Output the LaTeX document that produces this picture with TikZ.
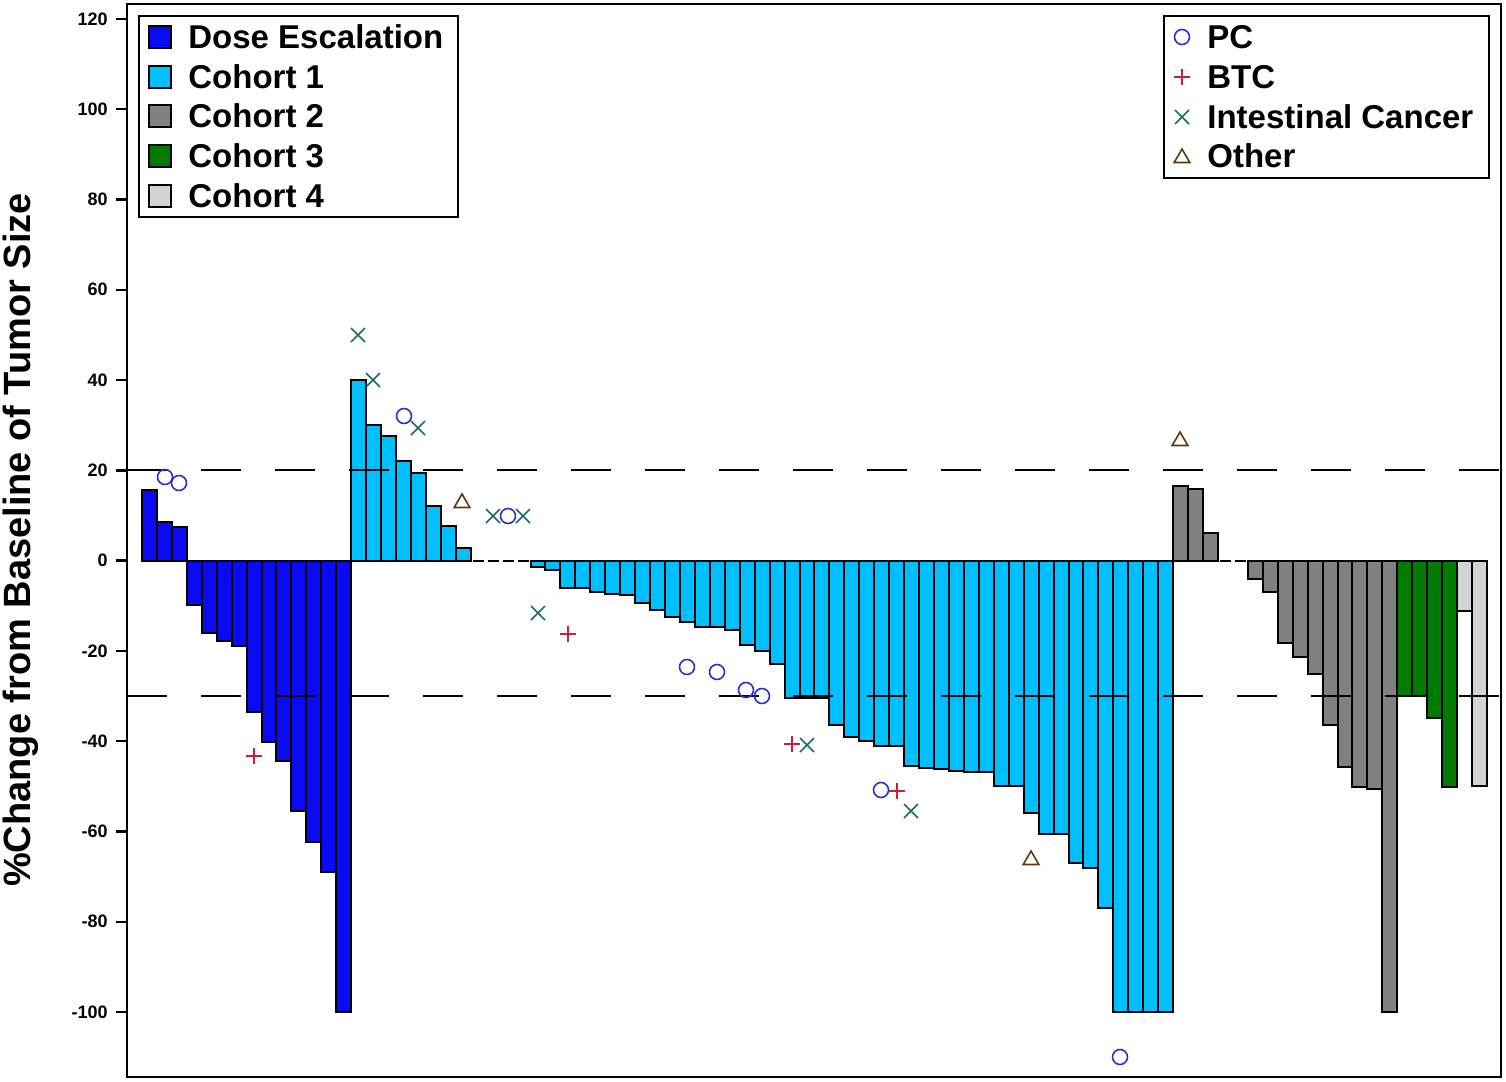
\documentclass[tikz,border=0pt]{standalone}
\usepackage{fontspec}
\setmainfont{Liberation Sans}
\usetikzlibrary{shapes.geometric}
\definecolor{cdose}{HTML}{0A0AF5}
\definecolor{ccoh1}{HTML}{00BFFF}
\definecolor{ccoh2}{HTML}{808080}
\definecolor{ccoh3}{HTML}{007A00}
\definecolor{ccoh4}{HTML}{D3D3D3}
\definecolor{mpc}{HTML}{3030D0}
\definecolor{mbtc}{HTML}{C8203C}
\definecolor{mint}{HTML}{1A6E5C}
\definecolor{moth}{HTML}{5C3A10}
\tikzset{
  barbox/.style={draw=black,line width=1pt},
  pcmark/.style={circle,draw=mpc,line width=0.8pt,minimum size=7.5pt,inner sep=0pt},
  othmark/.style={regular polygon,regular polygon sides=3,draw=moth,line width=0.8pt,minimum size=9pt,inner sep=0pt},
  ticklab/.style={anchor=east,font=\fontsize{9}{10}\selectfont\bfseries,inner sep=0pt},
  legtext/.style={anchor=west,font=\fontsize{16.5}{18}\selectfont\bfseries,inner sep=0pt},
}
\newcommand{\plusmark}[2]{\draw[mbtc,line width=0.8pt] (#1-8,#2)--(#1+8,#2) (#1,#2-8)--(#1,#2+8);}
\newcommand{\xmark}[2]{\draw[mint,line width=0.8pt] (#1-7,#2-7)--(#1+7,#2+7) (#1-7,#2+7)--(#1+7,#2-7);}
\begin{document}
\begin{tikzpicture}[x=0.5pt,y=-0.5pt]
\useasboundingbox (0,0) rectangle (1506,1082);
\fill[white] (0,0) rectangle (1506,1082);
% bars
\begin{scope}[shift={(0,560.6)},yscale=-4.514]
\def\w{14.944}
\foreach \v [count=\i from 0] in {15.6,8.5,7.4,-9.9,-16,-17.8,-19,-33.6,-40.2,-44.4,-55.5,-62.3,-69,-100}
  {\filldraw[barbox,fill=cdose] (142+\i*\w,0) rectangle (142+\i*\w+\w,\v);}
\foreach \v [count=\i from 14] in {40,30,27.7,22,19.3,12,7.7,2.8,0,0,0,0,-1.5,-2,-6,-6,-7,-7.5,-7.7,-9.5,-11,-12.5,-13.6,-14.7,-14.7,-15.4,-18.7,-20,-23,-30.5,-30.5,-30.5,-36.5,-39,-40,-41,-41,-45.5,-46,-46.2,-46.5,-46.8,-46.8,-50,-50,-56,-60.5,-60.5,-67,-68,-77,-100,-100,-100,-100}
  {\ifdim \v pt=0pt \draw[line width=1pt] (142+\i*\w+2,0)--(142+\i*\w+\w-2,0);
   \else \filldraw[barbox,fill=ccoh1] (142+\i*\w,0) rectangle (142+\i*\w+\w,\v); \fi}
\foreach \v [count=\i from 69] in {16.5,15.8,6.1,0,0,-4,-7,-18.3,-21.4,-25.1,-36.4,-45.7,-50.2,-50.7,-100}
  {\ifdim \v pt=0pt \draw[line width=1pt] (142+\i*\w+2,0)--(142+\i*\w+\w-2,0);
   \else \filldraw[barbox,fill=ccoh2] (142+\i*\w,0) rectangle (142+\i*\w+\w,\v); \fi}
\foreach \v [count=\i from 84] in {-30,-30,-34.9,-50.2}
  {\filldraw[barbox,fill=ccoh3] (142+\i*\w,0) rectangle (142+\i*\w+\w,\v);}
\foreach \v [count=\i from 88] in {-11.1,-50}
  {\filldraw[barbox,fill=ccoh4] (142+\i*\w,0) rectangle (142+\i*\w+\w,\v);}
\end{scope}
% reference lines
\draw[line width=1pt,dash pattern=on 20 off 17] (127,470.3)--(1501,470.3);
\draw[line width=1pt,dash pattern=on 20 off 17] (127,696.0)--(1501,696.0);
% frame
\draw[line width=1.2pt] (127,4) rectangle (1501,1077);
% ticks
\foreach \v in {120,100,80,60,40,20,0,-20,-40,-60,-80,-100}{
  \draw[line width=1.2pt] (116,560.6-4.514*\v)--(127,560.6-4.514*\v);
  \node[ticklab] (t\v) at (108,560.6-4.514*\v) {\v};
}
\node[rotate=90,font=\fontsize{19}{20}\selectfont\bfseries,inner sep=0pt] (ytitle) at (21,540) {\%Change from Baseline of Tumor Size};
% markers
\foreach \x/\y [count=\k] in {165/477,179/483,404/416,508/516,687/667,717/672,746/690,762/696,881/790,1120/1057}
  \node[pcmark] (pc\k) at (\x,\y) {};
\plusmark{254}{756}\plusmark{568}{634}\plusmark{792}{744}\plusmark{897}{791}
\xmark{358}{335}\xmark{373}{380}\xmark{418}{428}\xmark{493}{516}\xmark{523}{516}\xmark{538}{613}\xmark{807}{745}\xmark{911}{811}
\foreach \x/\y [count=\k] in {462/502,1031/859,1180/440}
  \node[othmark] (ot\k) at (\x,\y+1) {};
% legend 1
\draw[line width=1.2pt,fill=white] (139,16) rectangle (458,217);
\foreach \c/\t/\r [count=\k] in {cdose/Dose Escalation/37,ccoh1/Cohort 1/77,ccoh2/Cohort 2/116,ccoh3/Cohort 3/156,ccoh4/Cohort 4/196}{
  \filldraw[fill=\c,draw=black,line width=0.8pt] (149,\r-11) rectangle (171,\r+11);
  \node[legtext] (l\k) at (188,\r) {\t};
}
% legend 2
\draw[line width=1.2pt,fill=white] (1164,16) rectangle (1489,178);
\node[pcmark] (lpc) at (1182,37) {};
\node[legtext] (lt1) at (1207,37) {PC};
\plusmark{1182}{77}
\node[legtext] (lt2) at (1207,77) {BTC};
\xmark{1182}{117}
\node[legtext] (lt3) at (1207,117) {Intestinal Cancer};
\node[othmark] (loth) at (1182,158) {};
\node[legtext] (lt4) at (1207,156) {Other};
\end{tikzpicture}
\end{document}
